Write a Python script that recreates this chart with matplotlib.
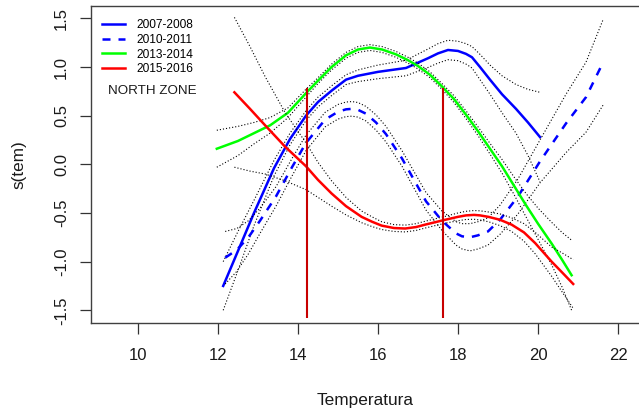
import numpy as np
import matplotlib
matplotlib.use('Agg')
import matplotlib.pyplot as plt

plt.rcParams['font.family'] = ['Liberation Sans', 'DejaVu Sans']
plt.rcParams['axes.unicode_minus'] = False

# 2007-2008 (blue solid): smooth term and half-width of its confidence band
x_0708 = [12.13, 12.5, 12.9, 13.4, 13.8, 14.2, 14.5, 14.85, 15.2, 15.5, 16.0, 16.7,
          17.25, 17.5, 17.75, 18.0, 18.2, 18.35, 18.55, 18.8, 19.1, 19.45, 19.75, 20.05]
fit_0708 = [-1.25, -0.89, -0.50, -0.04, 0.26, 0.50, 0.64, 0.76, 0.87, 0.91, 0.95, 0.99,
            1.09, 1.14, 1.175, 1.165, 1.135, 1.10, 1.00, 0.87, 0.72, 0.57, 0.43, 0.28]
se_0708 = [0.25, 0.20, 0.13, 0.08, 0.06, 0.05, 0.05, 0.05, 0.05, 0.06, 0.07, 0.08,
           0.095, 0.10, 0.10, 0.10, 0.105, 0.11, 0.13, 0.15, 0.19, 0.25, 0.34, 0.46]

# 2010-2011 (blue dashed)
x_1011 = [12.18, 12.47, 12.76, 13.05, 13.45, 13.85, 14.2, 14.68, 15.0, 15.2, 15.35, 15.5,
          15.7, 15.95, 16.2, 16.6, 17.2, 17.6, 17.95, 18.1, 18.3, 18.5, 18.75, 19.05, 19.5,
          20.05, 20.7, 21.2, 21.63]
fit_1011 = [-0.96, -0.88, -0.75, -0.58, -0.33, -0.03, 0.22, 0.46, 0.54, 0.565, 0.57, 0.56,
            0.52, 0.43, 0.31, 0.06, -0.38, -0.58, -0.71, -0.74, -0.75, -0.73, -0.69, -0.57,
            -0.33, 0.03, 0.42, 0.69, 1.05]
se_1011 = [0.27, 0.22, 0.17, 0.13, 0.10, 0.09, 0.08, 0.075, 0.075, 0.075, 0.075, 0.075,
           0.075, 0.078, 0.08, 0.08, 0.09, 0.10, 0.12, 0.13, 0.14, 0.14, 0.14, 0.15, 0.18,
           0.22, 0.30, 0.36, 0.44]

# 2013-2014 (green)
x_1314 = [11.97, 12.5, 12.9, 13.3, 13.75, 14.22, 14.5, 14.84, 15.2, 15.5, 15.8, 16.1, 16.45,
          16.75, 17.0, 17.3, 17.6, 17.9, 18.2, 18.5, 18.8, 19.1, 19.4, 19.7, 20.0, 20.35,
          20.6, 20.84]
fit_1314 = [0.16, 0.24, 0.32, 0.40, 0.53, 0.74, 0.86, 1.0, 1.12, 1.18, 1.20, 1.18, 1.13,
            1.07, 1.01, 0.92, 0.80, 0.67, 0.51, 0.34, 0.16, -0.02, -0.22, -0.42, -0.61, -0.82,
            -0.98, -1.14]
se_1314 = [0.19, 0.15, 0.11, 0.08, 0.05, 0.04, 0.03, 0.03, 0.03, 0.03, 0.03, 0.03, 0.03,
           0.03, 0.03, 0.03, 0.03, 0.035, 0.04, 0.045, 0.055, 0.07, 0.09, 0.12, 0.16, 0.22,
           0.28, 0.36]

# 2015-2016 (red)
x_1516 = [12.41, 12.8, 13.18, 13.68, 14.2, 14.5, 14.84, 15.2, 15.59, 15.85, 16.09, 16.4,
          16.68, 16.95, 17.18, 17.68, 18.0, 18.2, 18.4, 18.55, 18.76, 19.05, 19.34, 19.65,
          19.93, 20.34, 20.6, 20.88]
fit_1516 = [0.74, 0.57, 0.40, 0.18, -0.02, -0.16, -0.30, -0.43, -0.54, -0.59, -0.63, -0.655,
            -0.66, -0.645, -0.62, -0.57, -0.54, -0.525, -0.52, -0.525, -0.54, -0.57, -0.62,
            -0.70, -0.81, -1.0, -1.11, -1.23]
se_1516 = [0.77, 0.64, 0.50, 0.35, 0.24, 0.18, 0.13, 0.09, 0.06, 0.05, 0.04, 0.035,
           0.035, 0.035, 0.035, 0.035, 0.04, 0.042, 0.045, 0.047, 0.05, 0.06, 0.07, 0.09,
           0.11, 0.15, 0.20, 0.25]

# temperature thresholds
vline_x = [14.22, 17.63]
vline_bottom = -1.58
vline_top = 0.78

xticks = [10, 12, 14, 16, 18, 20, 22]
yticks = [-1.5, -1.0, -0.5, 0.0, 0.5, 1.0, 1.5]

series = [
    (x_0708, fit_0708, se_0708, '#0000ff', '-', '2007-2008'),
    (x_1011, fit_1011, se_1011, '#0000ff', (0, (3.2, 3.2)), '2010-2011'),
    (x_1314, fit_1314, se_1314, '#00ff00', '-', '2013-2014'),
    (x_1516, fit_1516, se_1516, '#ff0000', '-', '2015-2016'),
]

fig = plt.figure(figsize=(6.39, 4.11), dpi=100)
ax = fig.add_axes([91 / 639, 1 - 323 / 411, (639 - 91) / 639, 317 / 411])

for xs, fit, se, col, ls, lab in series:
    xs = np.array(xs)
    fit = np.array(fit)
    se = np.array(se)
    ax.plot(xs, fit + se, color='black', lw=0.8, ls=(0, (1, 1.8)))
    ax.plot(xs, fit - se, color='black', lw=0.8, ls=(0, (1, 1.8)))
    ax.plot(xs, fit, color=col, lw=1.8, ls=ls, label=lab)

ax.vlines(vline_x, vline_bottom, vline_top, color='#c80000', lw=1.5, zorder=5)

ax.set_xlim(8.825, 22.525)
ax.set_ylim(-1.631, 1.627)
ax.set_xticks(xticks)
ax.set_xticklabels([str(t) for t in xticks])
ax.set_yticks(yticks)
ax.set_yticklabels(['%.1f' % t for t in yticks], rotation=90, va='center')
ax.tick_params(axis='both', direction='out', length=7.7, width=0.9, colors='#333333',
               labelsize=12, labelcolor='#1a1a1a')
ax.tick_params(axis='x', pad=10)
ax.tick_params(axis='y', pad=8)

for side in ['left', 'bottom', 'top']:
    ax.spines[side].set_color('#404040')
    ax.spines[side].set_linewidth(1.0)
ax.spines['right'].set_visible(False)

ax.set_xlabel('Temperatura', fontsize=12.4, color='#1a1a1a', labelpad=22)
ax.set_ylabel('s(tem)', fontsize=12.3, color='#1a1a1a', labelpad=20)

ax.legend(loc='upper left', bbox_to_anchor=(0.0195, 0.958), frameon=False, fontsize=8.6,
          borderaxespad=0, borderpad=0, handlelength=1.95, handletextpad=0.95,
          labelspacing=0.22)
ax.text(0.031, 0.733, 'NORTH ZONE', transform=ax.transAxes, fontsize=9.6, va='center',
        color='#1a1a1a')

fig.savefig('out.png', dpi=100)
